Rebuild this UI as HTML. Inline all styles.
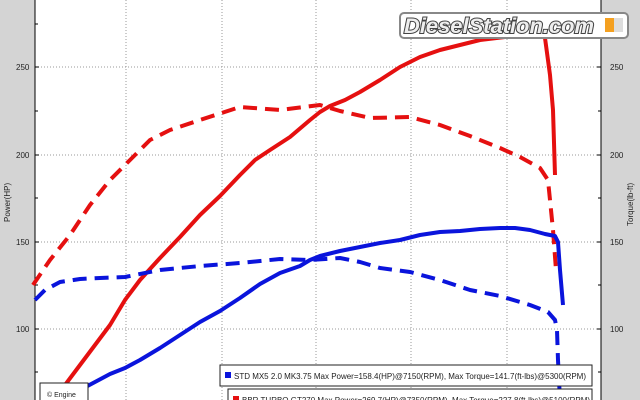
<!DOCTYPE html><html><head><style>body{margin:0;background:#fff}svg{display:block}</style></head><body>
<svg width="640" height="400" xmlns="http://www.w3.org/2000/svg" font-family="Liberation Sans, sans-serif">
<rect width="640" height="400" fill="#d4d4d4"/>
<rect x="35" y="0" width="566" height="400" fill="#fff"/>
<g stroke="#999" stroke-width="1" stroke-dasharray="1,2">
<line x1="126" y1="0" x2="126" y2="400"/><line x1="222" y1="0" x2="222" y2="400"/><line x1="316" y1="0" x2="316" y2="400"/><line x1="411" y1="0" x2="411" y2="400"/><line x1="507" y1="0" x2="507" y2="400"/>
<line x1="35" y1="67" x2="601" y2="67"/><line x1="35" y1="155" x2="601" y2="155"/><line x1="35" y1="242" x2="601" y2="242"/><line x1="35" y1="329" x2="601" y2="329"/>
</g>
<g stroke="#000" stroke-width="1">
<line x1="35" y1="0" x2="35" y2="400"/><line x1="601" y1="0" x2="601" y2="400"/>
<path d="M35 24h3M35 111h3M35 198h3M35 285h3M35 372h3M35 67h4M35 155h4M35 242h4M35 329h4M601 24h-3M601 111h-3M601 198h-3M601 285h-3M601 372h-3M601 67h-4M601 155h-4M601 242h-4M601 329h-4"/>
</g>
<g font-size="8" fill="#222">
<text x="16" y="70">250</text><text x="16" y="158">200</text><text x="16" y="245">150</text><text x="16" y="332">100</text>
<text x="610" y="70">250</text><text x="610" y="158">200</text><text x="610" y="245">150</text><text x="610" y="332">100</text>
<text transform="translate(10,222) rotate(-90)" font-size="8">Power(HP)</text>
<text transform="translate(633,226) rotate(-90)" font-size="8">Torque(lb-ft)</text>
</g>
<g fill="none" stroke-width="4" stroke-linejoin="round">
<polyline stroke="#e51010" points="52,400 65,385 80,365 95,345 110,325 125,300 140,280 160,258 180,237 200,215 220,196 240,175 255,160 270,150 290,137 310,120 320,112 330,106 345,100 360,92 380,80 400,67 420,57 440,50 460,45 480,40 505,37 525,36 540,35 545,38 550,75 553,110 555,175"/>
<polyline stroke="#e51010" stroke-dasharray="14,8" points="33,285 50,260 70,235 90,205 110,180 130,160 150,140 170,130 200,120 240,107 280,110 320,105 340,111 370,118 410,117 440,125 470,136 500,148 520,157 540,168 548,180 553,230 556,270"/>
<polyline stroke="#0a14dc" points="65,400 80,390 95,382 110,374 125,368 140,360 160,348 180,335 200,322 220,311 240,298 260,284 280,273 300,266 310,260 320,256 340,251 360,247 380,243 400,240 420,235 440,232 460,231 480,229 500,228 515,228 530,230 545,234 555,236 558,242 560,270 563,305"/>
<polyline stroke="#0a14dc" stroke-dasharray="14,8" points="35,300 45,290 60,282 80,279 100,278 125,277 160,270 200,266 240,263 280,259 310,260 340,258 360,262 380,268 410,272 440,280 470,290 500,296 530,305 548,312 555,320 557,330 558,360 560,400"/>
</g>
<rect x="220" y="365" width="372" height="21" fill="#fff" stroke="#222"/>
<rect x="225" y="372" width="6" height="6" fill="#0a14dc"/>
<text x="234" y="379" font-size="8" fill="#222" textLength="352">STD MX5 2.0 MK3.75  Max Power=158.4(HP)@7150(RPM), Max Torque=141.7(ft-lbs)@5300(RPM)</text>
<rect x="228" y="389" width="364" height="21" fill="#fff" stroke="#222"/>
<rect x="233" y="396" width="6" height="6" fill="#e51010"/>
<text x="242" y="403" font-size="8" fill="#222">BBR TURBO GT270  Max Power=269.7(HP)@7350(RPM), Max Torque=227.8(ft-lbs)@5100(RPM)</text>
<rect x="40" y="383" width="48" height="20" fill="#fff" stroke="#222"/>
<text x="47" y="397" font-size="7" fill="#222">© Engine</text>
<rect x="400" y="13" width="228" height="25" rx="4" fill="#fff" stroke="#888" stroke-width="2"/>
<text x="404" y="33" font-size="21" font-weight="bold" font-style="italic" fill="#eee" stroke="#444" stroke-width="2" paint-order="stroke" textLength="190" lengthAdjust="spacingAndGlyphs">DieselStation.com</text>
<rect x="605" y="18" width="9" height="14" fill="#f4a020"/><rect x="614" y="18" width="9" height="14" fill="#ddd"/>
</svg>
</body></html>
